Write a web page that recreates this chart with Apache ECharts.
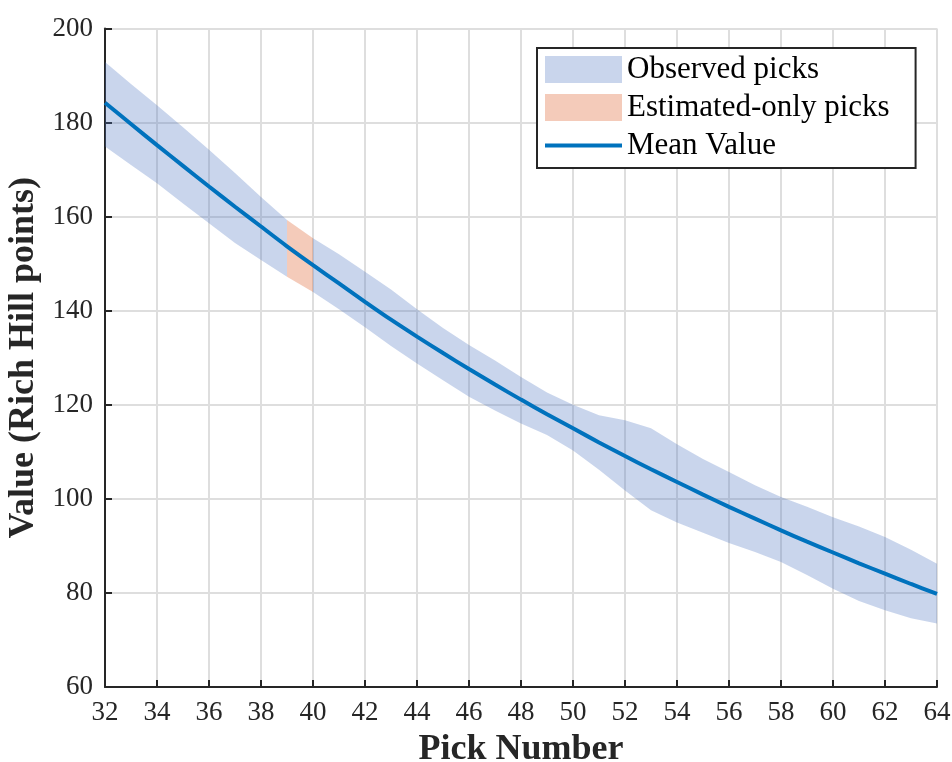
<!DOCTYPE html>
<html>
<head>
<meta charset="utf-8">
<script src="https://cdn.jsdelivr.net/npm/echarts@6/dist/echarts.min.js"></script>
<style>html,body{margin:0;padding:0;background:#fff}#c{width:952px;height:762px}</style>
</head>
<body>
<div id="c"></div>
<script>
// Pick numbers
var picks = [32,33,34,35,36,37,38,39,40,41,42,43,44,45,46,47,48,49,50,51,52,53,54,55,56,57,58,59,60,61,62,63,64];
// Mean value
var meanValue = [184.2,179.7,175.2,170.8,166.4,162.1,157.9,153.7,149.7,145.8,141.9,138.1,134.5,131.0,127.6,124.3,121.1,118.0,115.0,112.0,109.1,106.3,103.6,100.9,98.3,95.8,93.3,90.9,88.6,86.3,84.1,81.9,79.8];
// Band upper / lower
var bandUpper = [192.9,188.2,183.7,179.0,174.2,169.3,164.2,159.3,155.4,152.0,148.3,144.5,140.3,136.3,132.7,129.4,125.9,122.6,120.0,117.8,116.7,115.0,111.6,108.5,105.7,102.9,100.4,98.3,96.1,94.1,91.9,89.2,86.2];
var bandLower = [174.9,171.0,167.1,162.8,158.6,154.4,150.8,147.2,144.0,140.3,136.5,132.5,128.8,125.2,121.7,118.8,116.0,113.6,110.3,106.2,101.8,97.6,95.0,92.8,90.6,88.7,86.6,83.8,80.9,78.3,76.3,74.6,73.5];
// Estimated-only pick range
var estStart = 39, estEnd = 40;
var xTicks = {min: 32, max: 64, interval: 2};
var yTicks = {min: 60, max: 200, interval: 20};

function segments(filterFn) {
  var segs = [], cur = null;
  for (var i = 0; i < picks.length - 1; i++) {
    if (filterFn(picks[i], picks[i+1])) {
      if (!cur) { cur = [i, i+1]; } else { cur[1] = i+1; }
    } else if (cur) { segs.push(cur); cur = null; }
  }
  if (cur) segs.push(cur);
  return segs;
}
var obsSegs = segments(function(a,b){ return !(a >= estStart && b <= estEnd); });
var estSegs = segments(function(a,b){ return (a >= estStart && b <= estEnd); });

function bandRenderer(segs) {
  return function(params, api) {
    if (params.dataIndex !== 0) return;
    var children = [];
    segs.forEach(function(s){
      var pts = [];
      for (var i = s[0]; i <= s[1]; i++) pts.push(api.coord([picks[i], bandUpper[i]]));
      for (var j = s[1]; j >= s[0]; j--) pts.push(api.coord([picks[j], bandLower[j]]));
      children.push({type: 'polygon', shape: {points: pts}, style: {fill: api.visual('color')}});
    });
    return {type: 'group', children: children};
  };
}

var serif = '"Liberation Serif", "DejaVu Serif", serif';
var chart = echarts.init(document.getElementById('c'), null, {renderer: 'canvas'});
var lineData = picks.map(function(p, i){ return [p, meanValue[i]]; });

chart.setOption({
  animation: false,
  backgroundColor: '#fff',
  grid: {left: 105, right: 15, top: 28.5, bottom: 75, containLabel: false, outerBoundsMode: 'none'},
  xAxis: {
    type: 'value', min: xTicks.min, max: xTicks.max, interval: xTicks.interval,
    name: 'Pick Number', nameLocation: 'middle', nameGap: 45,
    nameTextStyle: {fontFamily: serif, fontWeight: 'bold', fontSize: 36, color: '#262626'},
    axisLine: {show: true, onZero: false, lineStyle: {color: '#262626', width: 2}},
    axisTick: {show: true, inside: true, length: 7, lineStyle: {color: '#262626', width: 2}},
    axisLabel: {fontFamily: serif, fontSize: 27, color: '#262626', margin: 12},
    splitLine: {show: true, lineStyle: {color: '#dedede', width: 2}}
  },
  yAxis: {
    type: 'value', min: yTicks.min, max: yTicks.max, interval: yTicks.interval,
    name: 'Value (Rich Hill points)', nameLocation: 'middle', nameGap: 61, nameRotate: 90,
    nameTextStyle: {fontFamily: serif, fontWeight: 'bold', fontSize: 36, color: '#262626'},
    axisLine: {show: true, onZero: false, lineStyle: {color: '#262626', width: 2}},
    axisTick: {show: true, inside: true, length: 7, lineStyle: {color: '#262626', width: 2}},
    axisLabel: {fontFamily: serif, fontSize: 27, color: '#262626', margin: 12},
    splitLine: {show: true, lineStyle: {color: '#dedede', width: 2}}
  },
  legend: {
    orient: 'vertical', left: 537, top: 48,
    backgroundColor: '#fff', borderColor: '#262626', borderWidth: 2,
    padding: [6, 26, 7, 8], itemWidth: 77, itemHeight: 27, itemGap: 7,
    textStyle: {fontFamily: serif, fontSize: 31, color: '#000'},
    data: [
      {name: 'Observed picks', icon: 'rect'},
      {name: 'Estimated-only picks', icon: 'rect'},
      {name: 'Mean Value', icon: 'path://M0,0H77V4H0Z'}
    ]
  },
  series: [
    {name: 'Observed picks', type: 'custom', data: lineData, renderItem: bandRenderer(obsSegs),
     itemStyle: {color: 'rgba(77,115,191,0.3)'}, clip: true, z: 1, silent: true},
    {name: 'Estimated-only picks', type: 'custom', data: lineData, renderItem: bandRenderer(estSegs),
     itemStyle: {color: 'rgba(217,84,26,0.3)'}, clip: true, z: 1, silent: true},
    {name: 'Mean Value', type: 'line', data: lineData, smooth: 0.3, showSymbol: false, symbol: 'none',
     lineStyle: {color: '#0072BD', width: 4}, itemStyle: {color: '#0072BD'}, z: 3, silent: true}
  ]
});
</script>
</body>
</html>
